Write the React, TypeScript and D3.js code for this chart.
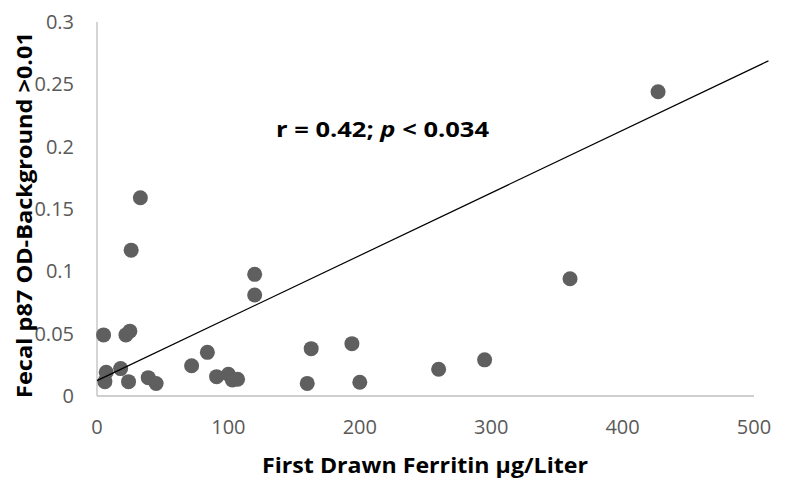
import React from 'react'
import * as d3 from 'd3'

// ferritin (µg/L) vs fecal p87 OD
const ferritin = [5, 7, 6, 18, 22, 25, 24, 26, 33, 39, 45, 72, 84, 91, 100, 103, 107, 120, 120, 160, 163, 194, 200, 260, 295, 360, 427]
const p87 = [0.049, 0.019, 0.0115, 0.022, 0.049, 0.052, 0.0115, 0.117, 0.159, 0.0147, 0.010, 0.0243, 0.035, 0.0155, 0.0174, 0.0128, 0.0134, 0.0976, 0.081, 0.0101, 0.038, 0.042, 0.011, 0.0214, 0.029, 0.094, 0.244]

const xTicks = [0, 100, 200, 300, 400, 500]
const yTicks = [0, 0.05, 0.1, 0.15, 0.2, 0.25, 0.3]

// linear trendline (intercept, slope), drawn a little past the axis end
const trendIntercept = 0.0123
const trendSlope = 0.000502
const trendRange = [0, 511]

const width = 787
const height = 479
const font = '"Open Sans", Lato, sans-serif'

export default function App() {
  const x = d3.scaleLinear().domain([0, 500]).range([97, 754])
  const y = d3.scaleLinear().domain([0, 0.3]).range([396, 22])

  const trendLine = d3.line<number>()
    .x(d => x(d))
    .y(d => y(trendIntercept + trendSlope * d))

  const points = ferritin.map((f, i) => ({ f, v: p87[i] }))

  return (
    <div style={{ position: 'absolute', left: 0, top: 0 }}>
      <svg width={width} height={height} style={{ display: 'block', background: '#fff' }}>
        {/* axes */}
        <line x1={x(0)} x2={x(0)} y1={y(0.3)} y2={y(0)} stroke='#bfbfbf' strokeWidth={1.3} />
        <line x1={x(0)} x2={x(500)} y1={y(0)} y2={y(0)} stroke='#bfbfbf' strokeWidth={1.3} />

        {/* tick labels */}
        {yTicks.map(t => (
          <text key={'y' + t} x={74} y={y(t)} dy='0.35em' textAnchor='end'
            fontFamily={font} fontSize={20} fill='#595959'>{String(t)}</text>
        ))}
        {xTicks.map(t => (
          <text key={'x' + t} x={x(t)} y={427} dy='0.35em' textAnchor='middle'
            fontFamily={font} fontSize={20} fill='#595959'>{String(t)}</text>
        ))}

        {/* points */}
        {points.map((d, i) => (
          <circle key={i} cx={x(d.f)} cy={y(d.v)} r={7.5} fill='#5f5f5f' />
        ))}

        {/* trendline */}
        <path d={trendLine(trendRange) || ''} fill='none' stroke='#000' strokeWidth={1.2} />

        {/* annotation */}
        <text x={276} y={136.5} fontFamily={font} fontSize={21} fontWeight='bold' fill='#000'
          textLength={213} lengthAdjust='spacingAndGlyphs'>
          r = 0.42; <tspan fontStyle='italic'>p</tspan> &lt; 0.034
        </text>

        {/* axis titles */}
        <text x={425} y={473} textAnchor='middle' fontFamily={font} fontSize={21}
          fontWeight='bold' fill='#000' textLength={326} lengthAdjust='spacingAndGlyphs'>First Drawn Ferritin µg/Liter</text>
        <text transform={`translate(32, 215) rotate(-90)`} textAnchor='middle'
          fontFamily={font} fontSize={22} fontWeight='bold' fill='#000'
          textLength={366} lengthAdjust='spacingAndGlyphs'>Fecal p87 OD-Background &gt;0.01</text>
      </svg>
    </div>
  )
}
